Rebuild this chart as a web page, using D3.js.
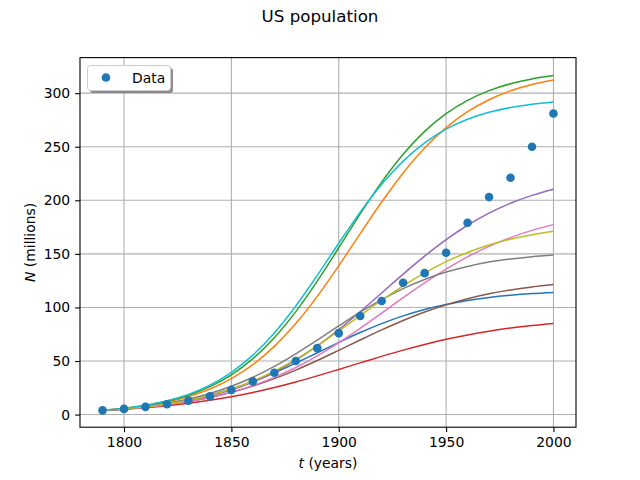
<!DOCTYPE html>
<html><head><meta charset="utf-8">
<script src="https://cdn.jsdelivr.net/npm/d3@7"></script>
<style>
body{margin:0;background:#fff;}
svg{display:block;font-family:"DejaVu Sans",sans-serif;}
</style></head>
<body><svg id="c" width="640" height="480"></svg>
<script>
const years = d3.range(1790, 2001, 10);
const population = [3.9,5.3,7.2,9.6,13,17,23,31,39,50,62,76,92,106,123,132,151,179,203,221,250,281];
const xTicks = [1800,1850,1900,1950,2000];
const yTicks = [0,50,100,150,200,250,300];
const colors = ["#1f77b4","#ff7f0e","#2ca02c","#d62728","#9467bd","#8c564b","#e377c2","#7f7f7f","#bcbd22","#17becf"];
const curveBlue   = [3.90,5.37,7.37,10.04,13.56,18.11,23.82,30.78,38.92,48.03,57.66,67.37,76.60,84.92,92.09,98.01,102.7,106.4,109.2,111.3,112.9,114.0];
const curveOrange = [3.90,5.64,8.15,11.72,16.77,23.83,33.55,46.60,63.61,84.92,110.3,138.9,168.9,198.4,225.5,248.8,267.8,282.7,293.9,302.2,308.1,312.3];
const curveGreen  = [3.90,5.75,8.45,12.38,18.02,26.03,37.14,52.17,71.76,96.1,124.6,155.7,187.3,217.0,243.0,264.3,280.9,293.3,302.4,308.8,313.3,316.4];
const curveRed    = [3.90,5.03,6.47,8.28,10.53,13.30,16.65,20.62,25.23,30.41,36.09,42.11,48.26,54.33,60.12,65.45,70.22,74.36,77.87,80.79,83.17,85.09];
const curvePurple = [3.90,5.29,7.16,9.66,12.98,17.36,23.05,30.34,39.49,50.70,64.01,79.25,95.96,113.5,131.1,147.9,163.3,176.7,188.0,197.2,204.6,210.4];
const curveBrown  = [3.90,5.22,6.97,9.26,12.23,16.01,20.76,26.58,33.52,41.53,50.43,59.93,69.61,79.04,87.82,95.67,102.4,108.1,112.7,116.3,119.1,121.3];
const curvePink   = [3.90,5.20,6.92,9.19,12.15,15.97,20.87,27.04,34.67,43.89,54.73,67.06,80.55,94.75,109.1,122.9,135.8,147.2,157.0,165.2,171.9,177.3];
const curveGray   = [3.90,5.45,7.60,10.52,14.46,19.67,26.40,34.83,45.0,56.71,69.51,82.70,95.54,107.3,117.6,126.1,133.0,138.3,142.3,145.2,147.4,149.0];
const curveOlive  = [3.90,5.34,7.28,9.90,13.38,17.96,23.87,31.36,40.59,51.59,64.19,78.02,92.43,106.7,120.2,132.3,142.7,151.3,158.3,163.7,167.9,171.1];
const curveCyan   = [3.90,5.82,8.66,12.82,18.85,27.44,39.40,55.48,76.17,101.3,129.9,159.9,189.0,215.0,236.6,253.6,266.4,275.6,282.1,286.6,289.7,291.8];
const curves = [curveBlue,curveOrange,curveGreen,curveRed,curvePurple,curveBrown,curvePink,curveGray,curveOlive,curveCyan];

const L=80,R=576,T=57.6,B=427.2;
const svg=d3.select("#c");
const x=d3.scaleLinear().domain([1779.5,2010.5]).range([L,R]);
const y=d3.scaleLinear().domain([-11.8,333.2]).range([B,T]);

// grid
const g=svg.append("g");
g.selectAll(".vg").data(xTicks).enter().append("line")
 .attr("x1",d=>x(d)).attr("x2",d=>x(d)).attr("y1",T).attr("y2",B)
 .attr("stroke","#b0b0b0").attr("stroke-width",1.1);
g.selectAll(".hg").data(yTicks).enter().append("line")
 .attr("x1",L).attr("x2",R).attr("y1",d=>y(d)).attr("y2",d=>y(d))
 .attr("stroke","#b0b0b0").attr("stroke-width",1.1);

// curves
const line=d3.line().x((d,i)=>x(years[i])).y(d=>y(d)).curve(d3.curveMonotoneX);
svg.append("g").selectAll("path").data(curves).enter().append("path")
 .attr("d",line).attr("fill","none").attr("stroke",(d,i)=>colors[i]).attr("stroke-width",1.5);

// data points
svg.append("g").selectAll("circle").data(population).enter().append("circle")
 .attr("cx",(d,i)=>x(years[i])).attr("cy",d=>y(d)).attr("r",4.3).attr("fill","#1f77b4");

// axes
const xa=svg.append("g").attr("transform",`translate(0,${B})`)
 .call(d3.axisBottom(x).tickValues(xTicks).tickFormat(d3.format("d")).tickSize(4.9).tickSizeOuter(0).tickPadding(4.9));
const ya=svg.append("g").attr("transform",`translate(${L},0)`)
 .call(d3.axisLeft(y).tickValues(yTicks).tickFormat(d3.format("d")).tickSize(4.9).tickSizeOuter(0).tickPadding(4.9));
[xa,ya].forEach(a=>{a.select(".domain").remove();
 a.selectAll("text").attr("font-size","13.9px").attr("font-family","DejaVu Sans").attr("fill","#000");
 a.selectAll("line").attr("stroke","#000").attr("stroke-width",1.1);});

svg.append("rect").attr("x",L).attr("y",T).attr("width",R-L).attr("height",B-T)
 .attr("fill","none").attr("stroke","#000").attr("stroke-width",1.1);

// title & labels
svg.append("text").attr("x",320).attr("y",22).attr("text-anchor","middle")
 .attr("font-size","16.7px").text("US population");
const xl=svg.append("text").attr("x",(L+R)/2).attr("y",468).attr("text-anchor","middle").attr("font-size","13.9px");
xl.append("tspan").attr("font-style","italic").text("t");
xl.append("tspan").text(" (years)");
const yl=svg.append("text").attr("transform",`translate(35,${(T+B)/2}) rotate(-90)`).attr("text-anchor","middle").attr("font-size","13.9px");
yl.append("tspan").attr("font-style","italic").text("N");
yl.append("tspan").text(" (millions)");

// legend
const lg=svg.append("g");
lg.append("rect").attr("x",90).attr("y",68).attr("width",83).attr("height",25).attr("rx",3)
 .attr("fill","#808080").attr("opacity",0.9);
lg.append("rect").attr("x",87.5).attr("y",65.5).attr("width",83).attr("height",25).attr("rx",3)
 .attr("fill","#fff").attr("stroke","#cccccc").attr("stroke-width",1);
lg.append("circle").attr("cx",106).attr("cy",77.5).attr("r",4.3).attr("fill","#1f77b4");
lg.append("text").attr("x",132).attr("y",82.5).attr("font-size","13.9px").text("Data");
</script></body></html>
